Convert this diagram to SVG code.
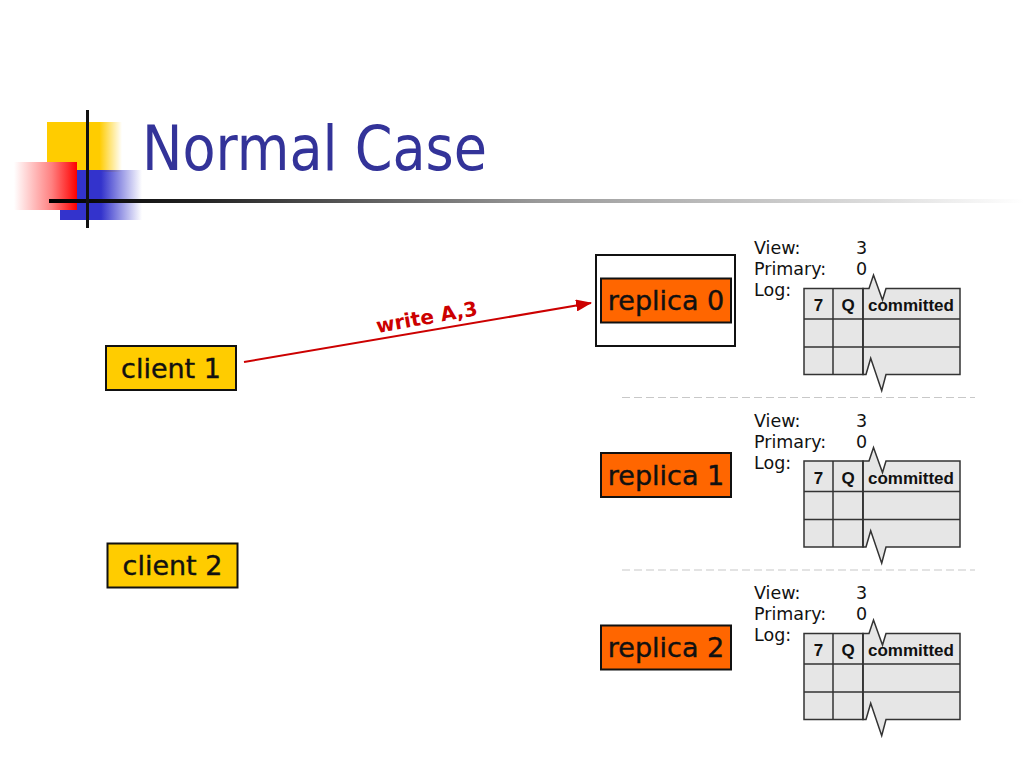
<svg xmlns="http://www.w3.org/2000/svg" width="1024" height="768" viewBox="0 0 1024 768">
<defs>
<linearGradient id="gY" x1="0" y1="0" x2="1" y2="0"><stop offset="0" stop-color="#FFCC00"/><stop offset="0.7" stop-color="#FFCC00"/><stop offset="1" stop-color="#FFCC00" stop-opacity="0"/></linearGradient>
<linearGradient id="gB" x1="0" y1="0" x2="1" y2="0"><stop offset="0" stop-color="#3333CC"/><stop offset="0.5" stop-color="#3333CC"/><stop offset="1" stop-color="#3333CC" stop-opacity="0"/></linearGradient>
<linearGradient id="gR" x1="0" y1="0" x2="1" y2="0"><stop offset="0" stop-color="#FFFFFF"/><stop offset="0.6" stop-color="#FF8080"/><stop offset="1" stop-color="#FF0000"/></linearGradient>
<linearGradient id="gL" x1="0" y1="0" x2="1" y2="0"><stop offset="0" stop-color="#000000"/><stop offset="0.15" stop-color="#222222"/><stop offset="0.5" stop-color="#999999"/><stop offset="0.85" stop-color="#DDDDDD"/><stop offset="1" stop-color="#FFFFFF"/></linearGradient>
<marker id="ahb" markerWidth="16" markerHeight="12" refX="15" refY="6" orient="auto" markerUnits="userSpaceOnUse" viewBox="0 0 16 12"><path d="M0,0 L16,6 L0,12 Z" fill="#CC0000"/></marker>
<g id="logtable">
<rect x="804" y="288.5" width="59" height="86" fill="#E6E6E6" stroke="#333" stroke-width="1.5"/>
<path d="M863,288.5 L869,288.5 L873.5,275 L882.5,300 L886,288.5 L960,288.5 L960,374.5 L886,374.5 L881.7,390.7 L870.7,358.3 L866,374.5 L863,374.5 Z" fill="#E6E6E6" stroke="#333" stroke-width="1.5"/>
<path d="M804,319 H960 M804,347 H960 M833,288.5 V374.5 M863,288.5 V374.5" stroke="#333" stroke-width="1.5" fill="none"/>
<text class="th" x="818.5" y="311" text-anchor="middle">7</text>
<text class="th" x="848" y="311" text-anchor="middle">Q</text>
<text class="th" x="868" y="311">committed</text>
</g>
</defs>
<style>
.box{stroke:#111;stroke-width:2}
.lbl{font-family:"DejaVu Sans","Liberation Sans",sans-serif;font-size:27px;fill:#111;text-anchor:middle;stroke:#111;stroke-width:0.4}
.info{font-family:"DejaVu Sans","Liberation Sans",sans-serif;font-size:17.5px;fill:#111}
.th{font-family:"Liberation Sans",Arial,sans-serif;font-size:17px;font-weight:bold;fill:#111}
.sep{stroke:#C8C8C8;stroke-width:1.2;stroke-dasharray:8 4}
</style>
<rect width="1024" height="768" fill="#FFFFFF"/>
<g id="title-decor">
<rect x="47" y="122" width="75" height="50" fill="url(#gY)"/>
<rect x="60" y="170" width="82" height="50" fill="url(#gB)"/>
<rect x="14" y="162" width="63" height="48" fill="url(#gR)"/>
<rect x="49" y="199" width="975" height="4" fill="url(#gL)"/>
<rect x="86" y="110" width="3" height="118" fill="#111"/>
</g>
<text x="142" y="170" font-family="DejaVu Sans,Liberation Sans,sans-serif" font-size="62" fill="#333399" textLength="345" lengthAdjust="spacingAndGlyphs">Normal Case</text>
<g id="separators">
<line class="sep" x1="622" y1="397.5" x2="975" y2="397.5"/>
<line class="sep" x1="622" y1="570" x2="975" y2="570"/>
</g>
<g id="connectors">
<line x1="244" y1="362" x2="591" y2="303" stroke="#CC0000" stroke-width="2" marker-end="url(#ahb)"/>
<text x="428" y="324" transform="rotate(-10 428 324)" text-anchor="middle" font-family="DejaVu Sans,Liberation Sans,sans-serif" font-size="20" font-weight="bold" fill="#CC0000">write A,3</text>
</g>
<g id="client1">
<rect class="box" x="106" y="346" width="130" height="44" fill="#FFCC00"/>
<text class="lbl" x="171" y="378">client 1</text>
</g>
<g id="client2">
<rect class="box" x="107.5" y="543.5" width="130" height="44" fill="#FFCC00"/>
<text class="lbl" x="172.5" y="575">client 2</text>
</g>
<g id="replica0">
<rect x="596" y="255" width="139" height="91" fill="#FFFFFF" stroke="#111" stroke-width="2"/>
<rect class="box" x="601" y="278.5" width="130" height="44" fill="#FF6600"/>
<text class="lbl" x="666" y="310">replica 0</text>
<text class="info" x="754" y="254">View:</text>
<text class="info" x="856" y="254">3</text>
<text class="info" x="754" y="275">Primary:</text>
<text class="info" x="856" y="275">0</text>
<text class="info" x="754" y="296">Log:</text>
<use href="#logtable"/>
</g>
<g id="replica1" transform="translate(0,172.5)">
<rect class="box" x="601" y="280.5" width="130" height="44" fill="#FF6600"/>
<text class="lbl" x="666" y="312">replica 1</text>
<text class="info" x="754" y="254">View:</text>
<text class="info" x="856" y="254">3</text>
<text class="info" x="754" y="275">Primary:</text>
<text class="info" x="856" y="275">0</text>
<text class="info" x="754" y="296">Log:</text>
<use href="#logtable"/>
</g>
<g id="replica2" transform="translate(0,345)">
<rect class="box" x="601" y="280.5" width="130" height="44" fill="#FF6600"/>
<text class="lbl" x="666" y="312">replica 2</text>
<text class="info" x="754" y="254">View:</text>
<text class="info" x="856" y="254">3</text>
<text class="info" x="754" y="275">Primary:</text>
<text class="info" x="856" y="275">0</text>
<text class="info" x="754" y="296">Log:</text>
<use href="#logtable"/>
</g>
</svg>
